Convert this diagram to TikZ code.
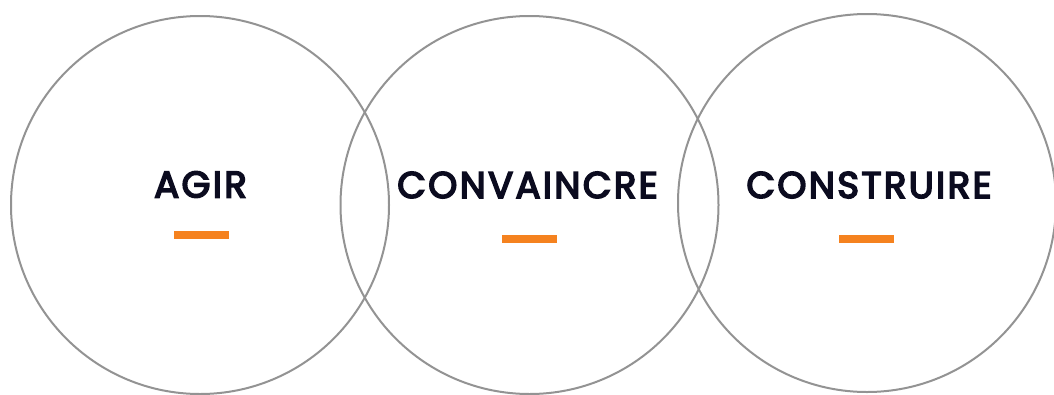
\documentclass[tikz,border=0pt]{standalone}
\usepackage{fontspec}
\newfontfamily\headfont{Poppins}[FakeBold=4.5, LetterSpace=6.5]
\definecolor{ringgray}{HTML}{939393}
\definecolor{textnavy}{HTML}{0B0B1F}
\definecolor{barorange}{HTML}{F5821F}
\tikzset{
    ring/.style={draw=ringgray, line width=2, circle, minimum size=378, inner sep=0},
    word/.style={inner sep=0, text=textnavy, font=\headfont\fontsize{37}{40}\selectfont},
    bar/.style={fill=barorange, draw=none, inner sep=0, minimum width=55, minimum height=7.5}
}
\begin{document}
\begin{tikzpicture}[x=1pt,y=-1pt]

    \useasboundingbox (0,0) rectangle (1054,394);

    %rings
    \node[ring] (ringA) at (200,205) {};
    \node[ring] (ringB) at (529.5,205) {};
    \node[ring] (ringC) at (867,203) {};

    %words
    \node[word] (agir) at (200.5,184.5) {AGIR};
    \node[word] (convaincre) at (527.5,185) {CONVAINCRE};
    \node[word] (construire) at (869,185) {CONSTRUIRE};

    %orange dashes
    \node[bar] (barA) at (201.5,234.8) {};
    \node[bar] (barB) at (529.3,238.8) {};
    \node[bar] (barC) at (866.5,238.8) {};

\end{tikzpicture}
\end{document}
